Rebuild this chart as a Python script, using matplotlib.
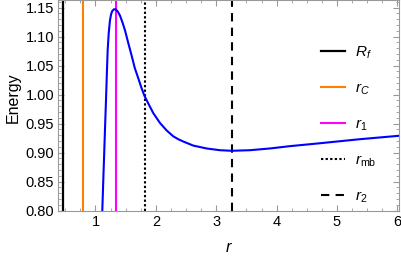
import matplotlib
matplotlib.use("Agg")
import matplotlib.pyplot as plt
from matplotlib.ticker import MultipleLocator, FormatStrFormatter

plt.rcParams['font.family'] = ['Liberation Sans', 'DejaVu Sans']
plt.rcParams['mathtext.fontset'] = 'custom'
plt.rcParams['mathtext.rm'] = 'Liberation Sans'
plt.rcParams['mathtext.it'] = 'Liberation Sans:italic'

# energy curve
r_vals = [1.113, 1.130, 1.146, 1.160, 1.174, 1.188, 1.202, 1.220, 1.240,
          1.260, 1.278, 1.305, 1.334, 1.370, 1.406, 1.445, 1.488, 1.540,
          1.599, 1.650, 1.709, 1.760, 1.810, 1.848, 1.957, 2.068, 2.179,
          2.288, 2.370, 2.454, 2.619, 2.841, 3.061, 3.255, 3.558, 3.889,
          4.220, 4.717, 5.379, 6.04]
energy = [0.800, 0.855, 0.904, 0.948, 0.990, 1.035, 1.077, 1.107, 1.128,
          1.139, 1.144, 1.147, 1.147, 1.143, 1.136, 1.125, 1.111, 1.090,
          1.067, 1.046, 1.028, 1.012, 0.998, 0.990, 0.968, 0.951, 0.938,
          0.928, 0.923, 0.919, 0.912, 0.907, 0.904, 0.903, 0.904, 0.907,
          0.911, 0.916, 0.923, 0.929]

# special radii
R_f = 0.457
r_C = 0.80
r_1 = 1.345
r_mb = 1.82
r_2 = 3.26

fig = plt.figure(figsize=(4.02, 2.58), dpi=100)
ax = fig.add_axes([0.145, 0.184, 0.848, 0.816])

ax.plot(r_vals, energy, color='#0000FF', lw=1.5, zorder=3)

ax.axvline(R_f, color='black', lw=1.6, label=r'$R_f$')
ax.axvline(r_C, color='#FF8000', lw=1.5, label=r'$r_C$')
ax.axvline(r_1, color='#FF00FF', lw=1.5, label=r'$r_1$')
ax.axvline(r_mb, color='black', lw=1.5, ls=(0, (1.1, 1.1)), label=r'$r_{\rm mb}$')
ax.axvline(r_2, color='black', lw=1.5, ls=(0, (4, 3)), label=r'$r_2$')

ax.set_xlim(0.384, 6.03)
ax.set_ylim(0.80, 1.163)

ax.xaxis.set_major_locator(MultipleLocator(1))
ax.xaxis.set_minor_locator(MultipleLocator(0.25))
ax.yaxis.set_major_locator(MultipleLocator(0.05))
ax.yaxis.set_minor_locator(MultipleLocator(0.01))
ax.yaxis.set_major_formatter(FormatStrFormatter('%.2f'))

for s in ax.spines.values():
    s.set_color('#999999')
    s.set_linewidth(0.8)
ax.tick_params(which='both', direction='in', top=True, right=True,
               color='#999999', labelsize=10.5, labelcolor='black')
ax.tick_params(which='major', length=4, pad=3)
ax.tick_params(which='minor', length=2)

ax.set_xlabel(r'$r$', fontsize=12, labelpad=8)
ax.set_ylabel('Energy', fontsize=11.5)
ax.yaxis.set_label_coords(-0.11, 0.535)

leg = ax.legend(loc='upper left', bbox_to_anchor=(0.73, 0.855), frameon=False,
                fontsize=11, handlelength=1.6, handletextpad=0.6,
                labelspacing=1.35)

fig.savefig('out.png', dpi=100)
